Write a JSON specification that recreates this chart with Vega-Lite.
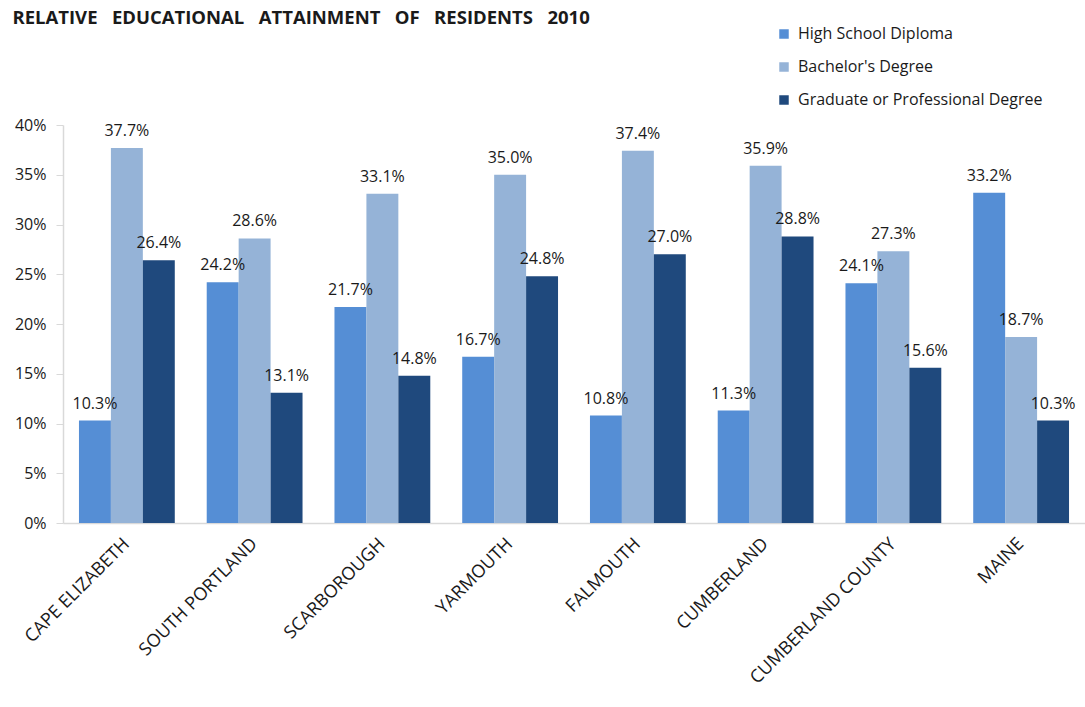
{
  "$schema": "https://vega.github.io/schema/vega-lite/v6.json",
  "autosize": {"type": "none"},
  "width": 1022,
  "height": 398,
  "padding": {"left": 63, "top": 125, "right": 0, "bottom": 184},
  "background": "white",
  "title": {
    "text": "RELATIVE \u00a0\u00a0EDUCATIONAL \u00a0\u00a0ATTAINMENT \u00a0\u00a0OF \u00a0\u00a0RESIDENTS \u00a0\u00a02010",
    "anchor": "start",
    "dx": -2,
    "offset": -1,
    "font": "Open Sans",
    "fontSize": 18.5,
    "fontWeight": "bold",
    "color": "#1a1a1a"
  },
  "config": {
    "view": {"stroke": null},
    "font": "Open Sans",
    "text": {"font": "Open Sans"}
  },
  "data": {
    "values": [
      {"place": "CAPE ELIZABETH", "level": "High School Diploma", "value": 0.103},
      {"place": "CAPE ELIZABETH", "level": "Bachelor's Degree", "value": 0.377},
      {"place": "CAPE ELIZABETH", "level": "Graduate or Professional Degree", "value": 0.264},
      {"place": "SOUTH PORTLAND", "level": "High School Diploma", "value": 0.242},
      {"place": "SOUTH PORTLAND", "level": "Bachelor's Degree", "value": 0.286},
      {"place": "SOUTH PORTLAND", "level": "Graduate or Professional Degree", "value": 0.131},
      {"place": "SCARBOROUGH", "level": "High School Diploma", "value": 0.217},
      {"place": "SCARBOROUGH", "level": "Bachelor's Degree", "value": 0.331},
      {"place": "SCARBOROUGH", "level": "Graduate or Professional Degree", "value": 0.148},
      {"place": "YARMOUTH", "level": "High School Diploma", "value": 0.167},
      {"place": "YARMOUTH", "level": "Bachelor's Degree", "value": 0.350},
      {"place": "YARMOUTH", "level": "Graduate or Professional Degree", "value": 0.248},
      {"place": "FALMOUTH", "level": "High School Diploma", "value": 0.108},
      {"place": "FALMOUTH", "level": "Bachelor's Degree", "value": 0.374},
      {"place": "FALMOUTH", "level": "Graduate or Professional Degree", "value": 0.270},
      {"place": "CUMBERLAND", "level": "High School Diploma", "value": 0.113},
      {"place": "CUMBERLAND", "level": "Bachelor's Degree", "value": 0.359},
      {"place": "CUMBERLAND", "level": "Graduate or Professional Degree", "value": 0.288},
      {"place": "CUMBERLAND COUNTY", "level": "High School Diploma", "value": 0.241},
      {"place": "CUMBERLAND COUNTY", "level": "Bachelor's Degree", "value": 0.273},
      {"place": "CUMBERLAND COUNTY", "level": "Graduate or Professional Degree", "value": 0.156},
      {"place": "MAINE", "level": "High School Diploma", "value": 0.332},
      {"place": "MAINE", "level": "Bachelor's Degree", "value": 0.187},
      {"place": "MAINE", "level": "Graduate or Professional Degree", "value": 0.103}
    ]
  },
  "encoding": {
    "x": {
      "field": "place",
      "type": "nominal",
      "sort": null,
      "scale": {"paddingInner": 0.25, "paddingOuter": 0.125},
      "axis": {
        "title": null,
        "labelAngle": -45,
        "labelAlign": "right",
        "labelBaseline": "middle",
        "labelPadding": 18,
        "labelFontSize": 18,
        "labelLimit": 0,
        "labelColor": "#1a1a1a",
        "labelFont": "Open Sans",
        "ticks": false,
        "domainColor": "#d9d9d9",
        "domainWidth": 1.5
      }
    },
    "xOffset": {
      "field": "level",
      "type": "nominal",
      "sort": ["High School Diploma", "Bachelor's Degree", "Graduate or Professional Degree"],
      "scale": {"paddingInner": 0, "paddingOuter": 0}
    },
    "y": {
      "field": "value",
      "type": "quantitative",
      "scale": {"domain": [0, 0.4]},
      "axis": {
        "title": null,
        "format": "%",
        "values": [0, 0.05, 0.1, 0.15, 0.2, 0.25, 0.3, 0.35, 0.4],
        "grid": false,
        "labelFontSize": 16,
        "labelColor": "#1a1a1a",
        "labelPadding": 10,
        "tickColor": "#d9d9d9",
        "tickSize": 7,
        "domainColor": "#d9d9d9",
        "domainWidth": 1.5
      }
    }
  },
  "layer": [
    {
      "mark": {"type": "bar"},
      "encoding": {
        "color": {
          "field": "level",
          "type": "nominal",
          "sort": ["High School Diploma", "Bachelor's Degree", "Graduate or Professional Degree"],
          "scale": {
            "domain": ["High School Diploma", "Bachelor's Degree", "Graduate or Professional Degree"],
            "range": ["#558ED5", "#95B3D7", "#1F497D"]
          },
          "legend": {
            "title": null,
            "orient": "none",
            "legendX": 713,
            "legendY": -99,
            "symbolType": "square",
            "symbolSize": 90,
            "symbolStrokeWidth": 0,
            "labelFontSize": 16,
            "labelLimit": 0,
            "labelColor": "#1a1a1a",
            "labelOffset": 6,
            "rowPadding": 17
          }
        }
      }
    },
    {
      "mark": {"type": "text", "dy": -17, "fontSize": 16, "color": "#1a1a1a"},
      "encoding": {
        "text": {"field": "value", "type": "quantitative", "format": ".1%"}
      }
    }
  ]
}
